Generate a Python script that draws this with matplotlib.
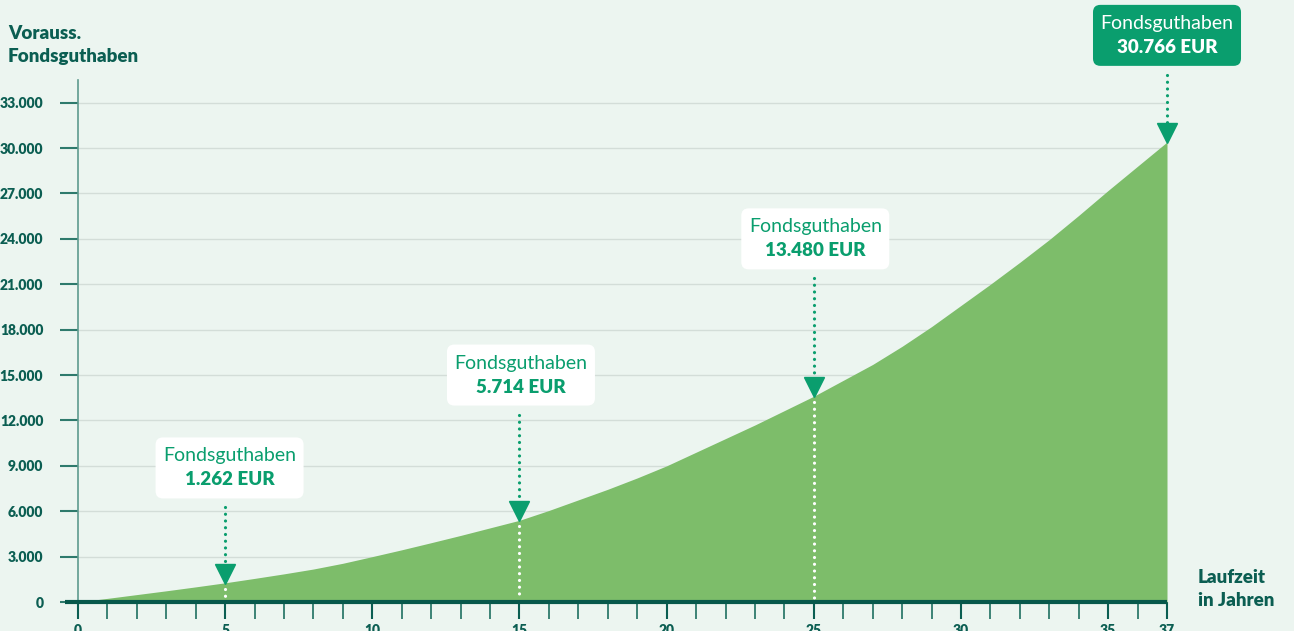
import matplotlib
matplotlib.use('Agg')
import matplotlib.pyplot as plt
from matplotlib.patches import FancyBboxPatch

plt.rcParams['font.family'] = ['Lato', 'DejaVu Sans']

# Daten
jahre = list(range(0, 38))
guthaben = [0, 240, 490, 740, 1000, 1270, 1560, 1860, 2180, 2560,
            3000, 3450, 3920, 4400, 4900, 5400, 6050, 6750, 7450, 8200,
            9000, 9900, 10800, 11700, 12650, 13600, 14650, 15700, 16900, 18200,
            19600, 21000, 22450, 23950, 25550, 27200, 28800, 30400]
y_ticks = [0, 3000, 6000, 9000, 12000, 15000, 18000, 21000, 24000, 27000, 30000, 33000]
x_ticklabels = [0, 5, 10, 15, 20, 25, 30, 35, 37]
marken_jahr = [5, 15, 25, 37]
marken_text = ['1.262 EUR', '5.714 EUR', '13.480 EUR', '30.766 EUR']
box_mitte_y = [8860, 15000, 24000, 37450]   # Mitte der Infobox
box_mitte_x = [5.15, 15.05, 25.05, 37.0]

bg = '#ECF5F0'
dunkel = '#0B5E52'
gruen = '#7DBD6A'
tuerkis = '#0A9E6E'
grid = '#D3DDD8'

fig = plt.figure(figsize=(12.94, 6.31), dpi=100, facecolor=bg)
ax = fig.add_axes([78/1294, 29/631, (1167-78)/1294, (551-29)/631])
ax.set_facecolor(bg)
ax.set_xlim(0, 37)
ax.set_ylim(0, 34500)
for s in ['top', 'right', 'bottom']:
    ax.spines[s].set_visible(False)
ax.spines['left'].set_color('#5E9A8E')
ax.spines['left'].set_linewidth(1.2)

# gitterlinien
for yt in y_ticks[1:]:
    ax.plot([0, 37], [yt, yt], color=grid, lw=1.0, zorder=1)

ax.fill_between(jahre, guthaben, 0, color=gruen, lw=0, zorder=2)

# y-achse
ax.set_yticks(y_ticks)
ax.set_yticklabels(['{:,}'.format(v).replace(',', '.') for v in y_ticks])
ax.tick_params(axis='y', length=13, width=1.5, color='#2E7A6C', pad=12,
               labelsize=10, labelcolor=dunkel)
for t in ax.get_yticklabels():
    t.set_fontweight('heavy')

# x-achse
ax.set_xticks(jahre, minor=True)
ax.set_xticks(x_ticklabels)
ax.set_xticklabels([str(v) for v in x_ticklabels])
ax.tick_params(axis='x', which='minor', length=12, width=1.3, color='#2E7A6C')
ax.tick_params(axis='x', which='major', length=12, width=1.5, color=dunkel,
               pad=4, labelsize=10, labelcolor=dunkel)
for t in ax.get_xticklabels():
    t.set_fontweight('heavy')
ax.plot([-0.44, 37], [0, 0], color='#07584B', lw=3, clip_on=False, zorder=5,
        solid_capstyle='butt')

fig.text(8/1294, 1 - 45/631, 'Vorauss.\nFondsguthaben', fontsize=13.5,
         fontweight='heavy', color=dunkel, va='center', ha='left', linespacing=1.45)
fig.text(1198/1294, 1 - 589/631, 'Laufzeit\nin Jahren', fontsize=13.5,
         fontweight='heavy', color=dunkel, va='center', ha='left', linespacing=1.45)

# markierungen
px_y = 1000 / 15.13
px_x = 1 / 29.43
for i, j in enumerate(marken_jahr):
    wert = guthaben[j]
    bx, by = box_mitte_x[i], box_mitte_y[i]
    bw, bh = 148 * px_x, 61 * px_y
    gefuellt = (i == len(marken_jahr) - 1)
    fc = tuerkis if gefuellt else 'white'
    tc = 'white' if gefuellt else tuerkis
    box = FancyBboxPatch((bx - bw / 2, by - bh / 2), bw, bh,
                         boxstyle='round,pad=0,rounding_size=0.25',
                         mutation_aspect=px_y / px_x, fc=fc, ec='none',
                         clip_on=False, zorder=6)
    ax.add_patch(box)
    ax.text(bx, by + 12 * px_y, 'Fondsguthaben', ha='center', va='center',
            fontsize=14, color=tc, zorder=7, clip_on=False)
    ax.text(bx, by - 12 * px_y, marken_text[i], ha='center', va='center',
            fontsize=13.5, fontweight='heavy', color=tc, zorder=7, clip_on=False)
    # gepunktete linie
    y_start = by - bh / 2 - 9 * px_y
    ax.plot([j, j], [y_start, wert + 14 * px_y], color=tuerkis, lw=2.3,
            linestyle=(0, (0.01, 2.1)), dash_capstyle='round', zorder=6,
            clip_on=False)
    ax.plot([j], [wert + 9 * px_y], marker='v', ms=14, color=tuerkis,
            mec=tuerkis, zorder=7, clip_on=False)
    if j < 37:
        ax.plot([j, j], [wert - 6 * px_y, 2 * px_y], color='white', lw=2.3,
                linestyle=(0, (0.01, 2.1)), dash_capstyle='round', zorder=4)

fig.savefig('out.png', dpi=100, facecolor=bg)
